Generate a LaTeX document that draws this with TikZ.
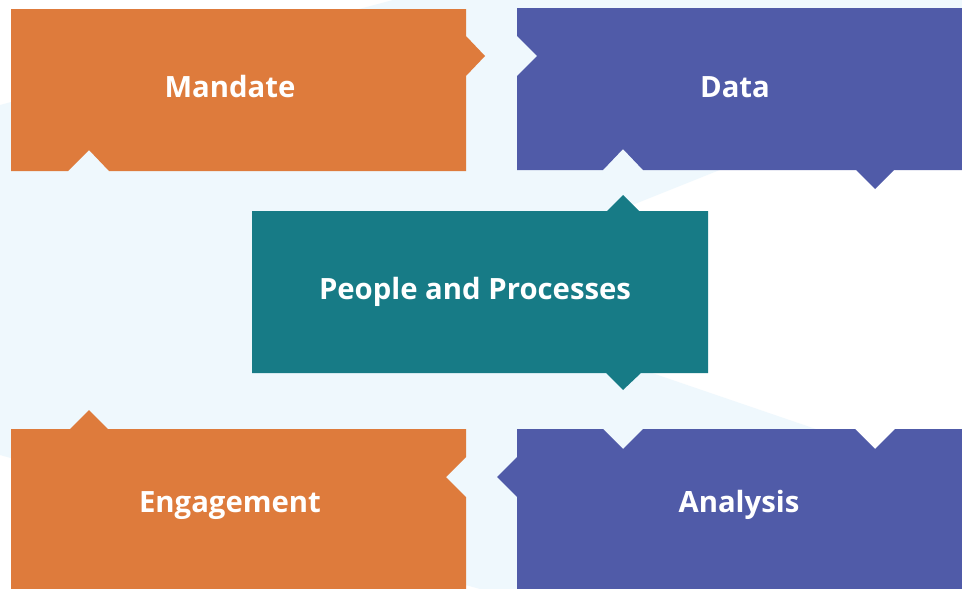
\documentclass[tikz,border=0pt]{standalone}
\usepackage{fontspec}
\setmainfont{Open Sans}
\definecolor{orangebox}{HTML}{DE7B3C}
\definecolor{bluebox}{HTML}{505BA8}
\definecolor{tealbox}{HTML}{177B86}
\definecolor{bgblue}{HTML}{EFF8FD}
\tikzset{
  boxlabel/.style={text=white,font=\bfseries\fontsize{29.3}{34}\selectfont,inner sep=0pt,anchor=base},
  orangefill/.style={fill=orangebox,draw=none},
  bluefill/.style={fill=bluebox,draw=none},
  tealfill/.style={fill=tealbox,draw=none}
}
\begin{document}
\begin{tikzpicture}[x=1pt,y=-1pt]
\useasboundingbox (0,0) rectangle (962,589);
\fill[white] (0,0) rectangle (962,589);
% light background shape
\fill[bgblue] (0,105) -- (393,0) -- (962,0) -- (962,73) -- (415,292) -- (962,479) -- (962,589) -- (480,589) -- (0,455) -- cycle;
% Mandate
\path[orangefill] (11,9) -- (466,9) -- (466,36) -- (485,56) -- (466,76) -- (466,171) -- (109,171) -- (89,150) -- (68,171) -- (11,171) -- cycle;
% Data
\path[bluefill] (517,8) -- (962,8) -- (962,170) -- (894,170) -- (875,189) -- (856,170) -- (643,170) -- (623,149) -- (603,170) -- (517,170) -- (517,76) -- (537,56) -- (517,36) -- cycle;
% People and Processes
\path[tealfill] (252,211) -- (607,211) -- (623,195) -- (639,211) -- (708,211) -- (708,373) -- (641,373) -- (623,390) -- (606,373) -- (252,373) -- cycle;
% Engagement
\path[orangefill] (11,429) -- (70,429) -- (89,410) -- (108,429) -- (466,429) -- (466,457) -- (446,477) -- (466,497) -- (466,589) -- (11,589) -- cycle;
% Analysis
\path[bluefill] (517,429) -- (603,429) -- (623,449) -- (643,429) -- (855,429) -- (875,449) -- (895,429) -- (962,429) -- (962,589) -- (517,589) -- (517,497) -- (497,477) -- (517,457) -- cycle;
% labels
\node[boxlabel] (mandate) at (230,97) {Mandate};
\node[boxlabel] (data) at (735,97) {Data};
\node[boxlabel] (people) at (475,299) {People and Processes};
\node[boxlabel] (engagement) at (230,512) {Engagement};
\node[boxlabel] (analysis) at (739,512) {Analysis};
\end{tikzpicture}
\end{document}
